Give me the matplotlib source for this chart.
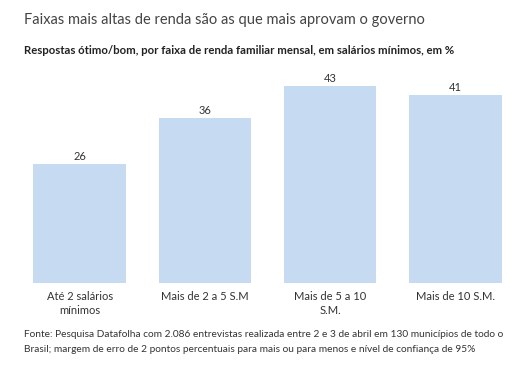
import matplotlib.pyplot as plt

# Dados do gráfico
faixas = ['Até 2 salários\nmínimos', 'Mais de 2 a 5 S.M', 'Mais de 5 a 10\nS.M.', 'Mais de 10 S.M.']
otimo_bom = [26, 36, 43, 41]

titulo = 'Faixas mais altas de renda são as que mais aprovam o governo'
subtitulo = 'Respostas ótimo/bom, por faixa de renda familiar mensal, em salários mínimos, em %'
fonte = ('Fonte: Pesquisa Datafolha com 2.086 entrevistas realizada entre 2 e 3 de abril em 130 municípios de todo o\n'
         'Brasil; margem de erro de 2 pontos percentuais para mais ou para menos e nível de confiança de 95%')

plt.rcParams['font.family'] = ['Lato', 'DejaVu Sans']

W, H = 521, 370
fig = plt.figure(figsize=(W / 100, H / 100), dpi=100)

# eixo posicionado em pixels: base das barras em y=283
left, right, top, bottom = 17, 518, 70, 283
ax = fig.add_axes([left / W, 1 - bottom / H, (right - left) / W, (bottom - top) / H])

x = range(len(faixas))
ax.bar(x, otimo_bom, width=0.74, color='#c6daf1')
ax.set_xlim(-0.5, 3.5)
ax.set_ylim(0, (bottom - top) / 4.58)

for xi, v in zip(x, otimo_bom):
    ax.text(xi, v + 0.5, str(v), ha='center', va='bottom', fontsize=8, color='#333333')

ax.set_xticks(list(x))
ax.set_xticklabels(faixas, fontsize=8, color='#333333', linespacing=1.25, va='top')
ax.tick_params(axis='x', length=0, pad=6)
ax.set_yticks([])
for s in ax.spines.values():
    s.set_visible(False)

fig.text(24 / W, 1 - 20 / H, titulo, ha='left', va='center', fontsize=10.5, color='#444444')
fig.text(24 / W, 1 - 51 / H, subtitulo, ha='left', va='center', fontsize=8.2, fontweight='bold', color='#222222')
fig.text(24 / W, 1 - 342 / H, fonte, ha='left', va='center', fontsize=7.3, color='#333333', linespacing=1.85)

fig.savefig('out.png', dpi=100)
